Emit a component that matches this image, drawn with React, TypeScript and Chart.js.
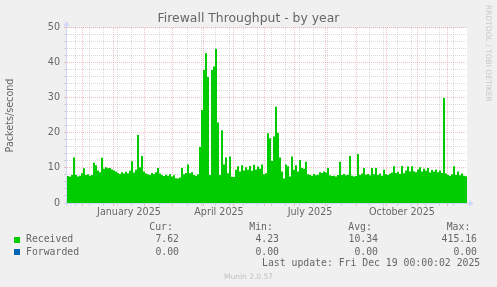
import React, { useEffect, useRef } from "react";
import { Chart, registerables } from "chart.js";

Chart.register(...registerables);

// ---------- data ----------
const TITLE = "Firewall Throughput - by year";
const Y_TITLE = "Packets/second";
const START_DATE = "2024-11-16"; // left edge of the plot
const SPAN_DAYS = 400;
const STEP_DAYS = 2; // one value per 2 days

const RECEIVED = [
  7.7, 7.5, 8.0, 13.0, 8.0, 7.6, 7.8, 8.5, 9.9, 8.0,
  8.2, 7.8, 8.0, 11.5, 10.8, 9.3, 8.8, 12.9, 9.8, 10.2,
  9.9, 10.0, 9.6, 9.3, 9.0, 8.6, 8.3, 8.8, 8.4, 8.9,
  8.5, 9.2, 11.9, 8.7, 9.5, 19.4, 10.2, 13.4, 9.0, 8.4,
  8.2, 8.0, 8.6, 8.3, 8.8, 10.0, 8.4, 8.0, 7.7, 8.1,
  7.8, 8.2, 7.6, 7.9, 7.1, 7.0, 7.3, 10.0, 8.2, 8.6,
  11.0, 8.5, 8.8, 8.0, 7.8, 8.2, 16.0, 26.6, 38.0, 42.8,
  36.0, 8.0, 38.0, 39.0, 44.0, 23.0, 8.0, 20.8, 11.0, 13.0,
  8.5, 13.3, 7.5, 7.4, 9.5, 10.5, 9.0, 10.8, 9.3, 10.2,
  9.5, 10.6, 9.2, 10.9, 9.6, 10.4, 9.8, 11.0, 8.2, 8.5,
  19.9, 18.5, 12.0, 19.0, 27.5, 20.0, 13.0, 9.0, 7.0, 11.0,
  10.5, 7.6, 13.3, 9.5, 10.8, 9.0, 12.3, 10.0, 9.8, 11.8,
  8.2, 8.0, 7.8, 8.3, 7.9, 8.1, 8.8, 8.6, 9.0, 8.7,
  10.0, 7.9, 7.7, 7.8, 7.6, 8.0, 11.8, 8.0, 8.3, 7.9,
  8.1, 13.4, 7.8, 7.6, 7.7, 14.0, 8.0, 8.4, 10.0, 8.1,
  8.3, 7.9, 10.0, 8.2, 10.0, 8.0, 8.4, 7.8, 9.5, 8.2,
  8.0, 8.4, 8.7, 10.5, 8.6, 8.9, 8.3, 10.6, 8.5, 9.3,
  10.4, 9.0, 10.5, 9.1, 8.8, 9.6, 10.2, 9.0, 9.8, 9.2,
  10.0, 8.7, 9.4, 9.0, 9.6, 8.8, 9.3, 8.6, 30.0, 8.4,
  8.0, 7.8, 8.2, 10.5, 8.0, 9.0, 7.9, 8.4, 7.8, 7.62,
];
const FORWARDED = [0, 0]; // flat at zero over the whole span

const SERIES_NAMES = ["Received", "Forwarded"];
const SERIES_COLORS = ["#00cc00", "#0066b3"];
const STAT_HEADERS = ["Cur:", "Min:", "Avg:", "Max:"];
const STATS_RECEIVED = ["7.62", "4.23", "10.34", "415.16"];
const STATS_FORWARDED = ["0.00", "0.00", "0.00", "0.00"];
const LAST_UPDATE = "Last update: Fri Dec 19 00:00:02 2025";
const FOOTER = "Munin 2.0.57";
const WATERMARK = "RRDTOOL / TOBI OETIKER";

const Y_MAX = 50;
const Y_LABEL_STEP = 10;
const Y_MINOR_STEP = 2;

const MONTH_STARTS = [
  "2024-12-01", "2025-01-01", "2025-02-01", "2025-03-01", "2025-04-01",
  "2025-05-01", "2025-06-01", "2025-07-01", "2025-08-01", "2025-09-01",
  "2025-10-01", "2025-11-01", "2025-12-01",
];
const MINOR_FIRST = "2024-11-24"; // every other Sunday
const MINOR_EVERY_DAYS = 14;
const X_LABELS = ["January 2025", "April 2025", "July 2025", "October 2025"];
const X_LABEL_DATES = ["2025-01-17", "2025-04-17", "2025-07-17", "2025-10-17"];

// ---------- helpers ----------
const DAY = 86400000;
const t0 = Date.parse(START_DATE + "T00:00:00Z");
const dayOf = (d: string) => (Date.parse(d + "T00:00:00Z") - t0) / DAY;

const MAJOR_X = MONTH_STARTS.map(dayOf);
const MINOR_X: number[] = [];
for (let d = dayOf(MINOR_FIRST); d < SPAN_DAYS; d += MINOR_EVERY_DAYS) MINOR_X.push(d);
const LABEL_X = X_LABEL_DATES.map(dayOf);

const X_TICKS = [
  ...MAJOR_X.map((v) => ({ value: v, kind: "major", label: "" })),
  ...MINOR_X.filter((v) => !MAJOR_X.some((m) => Math.abs(m - v) < 2)).map((v) => ({ value: v, kind: "minor", label: "" })),
  ...LABEL_X.map((v, i) => ({ value: v, kind: "label", label: X_LABELS[i] })),
].sort((a, b) => a.value - b.value);

const Y_TICKS: number[] = [];
for (let v = 0; v <= Y_MAX; v += Y_MINOR_STEP) Y_TICKS.push(v);

const MAJOR_COLOR = "rgba(222,79,79,0.36)";
const MINOR_COLOR = "rgba(140,140,140,0.32)";
const AXIS_COLOR = "#CFD6F8";
const TEXT_COLOR = "#666666";

const receivedPoints = RECEIVED.map((y, i) => ({ x: i * STEP_DAYS, y }));
receivedPoints.push({ x: SPAN_DAYS, y: RECEIVED[RECEIVED.length - 1] });
const forwardedPoints = FORWARDED.map((y, i) => ({ x: i * SPAN_DAYS, y }));

const muninPlugin = {
  id: "muninDecor",
  beforeDraw(chart: any) {
    const { ctx, chartArea: a } = chart;
    ctx.save();
    ctx.fillStyle = "#ffffff";
    ctx.fillRect(a.left, a.top, a.right - a.left, a.bottom - a.top);
    ctx.restore();
  },
  afterDatasetsDraw(chart: any) {
    const { ctx, chartArea: a } = chart;
    ctx.save();
    ctx.strokeStyle = AXIS_COLOR;
    ctx.fillStyle = AXIS_COLOR;
    ctx.lineWidth = 1;
    // y axis
    const ax = a.left - 0.5;
    ctx.beginPath();
    ctx.moveTo(ax, a.bottom + 3);
    ctx.lineTo(ax, a.top - 3);
    ctx.stroke();
    ctx.beginPath();
    ctx.moveTo(ax - 3, a.top - 2);
    ctx.lineTo(ax + 3, a.top - 2);
    ctx.lineTo(ax, a.top - 7);
    ctx.closePath();
    ctx.fill();
    // x axis
    const ay = a.bottom + 0.5;
    ctx.beginPath();
    ctx.moveTo(a.left - 3, ay);
    ctx.lineTo(a.right + 3, ay);
    ctx.stroke();
    ctx.beginPath();
    ctx.moveTo(a.right + 2, ay - 3);
    ctx.lineTo(a.right + 2, ay + 3);
    ctx.lineTo(a.right + 7, ay);
    ctx.closePath();
    ctx.fill();
    ctx.restore();
  },
};

const tickFont = { family: "DejaVu Sans", size: 9.6 };

function xGridColor(ctx: any) {
  const t = ctx.tick;
  if (!t) return "rgba(0,0,0,0)";
  const k = X_TICKS.find((x) => Math.abs(x.value - t.value) < 1e-6);
  if (!k || k.kind === "label") return "rgba(0,0,0,0)";
  return k.kind === "major" ? MAJOR_COLOR : MINOR_COLOR;
}
function yGridColor(ctx: any) {
  const t = ctx.tick;
  if (!t || t.value === 0) return "rgba(0,0,0,0)";
  return t.value % Y_LABEL_STEP === 0 ? MAJOR_COLOR : MINOR_COLOR;
}

export default function App() {
  const ref = useRef<HTMLCanvasElement>(null);

  useEffect(() => {
    if (!ref.current) return;
    const chart = new Chart(ref.current, {
      type: "line",
      data: {
        datasets: [
          {
            label: SERIES_NAMES[0],
            data: receivedPoints,
            stepped: true,
            fill: "origin",
            backgroundColor: SERIES_COLORS[0],
            borderColor: "rgba(0,0,0,0)",
            borderWidth: 0,
            pointRadius: 0,
          },
          {
            label: SERIES_NAMES[1],
            data: forwardedPoints,
            fill: false,
            borderColor: SERIES_COLORS[1],
            borderWidth: 0,
            pointRadius: 0,
          },
        ],
      },
      options: {
        animation: false,
        responsive: false,
        devicePixelRatio: 1,
        layout: { padding: { left: 0, right: 0, top: 0, bottom: 64 } },
        plugins: {
          legend: { display: false },
          tooltip: { enabled: false },
          title: {
            display: true,
            text: TITLE,
            color: TEXT_COLOR,
            font: { family: "DejaVu Sans", size: 12.4, weight: "normal" },
            padding: { top: 11, bottom: 2.1 },
          },
        },
        scales: {
          x: {
            type: "linear",
            min: 0,
            max: SPAN_DAYS,
            afterBuildTicks: (scale: any) => {
              scale.ticks = X_TICKS.map((t) => ({ value: t.value }));
            },
            afterFit: (scale: any) => {
              scale.height = 20;
            },
            ticks: {
              autoSkip: false,
              maxRotation: 0,
              color: TEXT_COLOR,
              font: tickFont,
              padding: 1,
              callback: (value: any) => {
                const k = X_TICKS.find((x) => Math.abs(x.value - value) < 1e-6);
                return k ? k.label : "";
              },
            },
            grid: {
              color: xGridColor,
              tickColor: xGridColor,
              tickLength: 3,
              lineWidth: 1,
            },
            border: { display: false, dash: [1, 1] },
          },
          y: {
            min: 0,
            max: Y_MAX,
            afterBuildTicks: (scale: any) => {
              scale.ticks = Y_TICKS.map((v) => ({ value: v }));
            },
            afterFit: (scale: any) => {
              scale.width = 67;
            },
            ticks: {
              autoSkip: false,
              color: TEXT_COLOR,
              font: tickFont,
              padding: 4,
              callback: (value: any) => (Number(value) % Y_LABEL_STEP === 0 ? String(value) : ""),
            },
            grid: {
              color: yGridColor,
              tickColor: yGridColor,
              tickLength: 3,
              lineWidth: 1,
            },
            border: { display: false, dash: [1, 1] },
            title: {
              display: true,
              text: Y_TITLE,
              color: TEXT_COLOR,
              font: { family: "DejaVu Sans", size: 9.6 },
              padding: { top: 4.5, bottom: 0 },
            },
          },
          yRight: {
            position: "right",
            min: 0,
            max: 1,
            ticks: { display: false },
            grid: { display: false },
            border: { display: false },
            afterFit: (scale: any) => {
              scale.width = 30;
            },
          },
        },
      },
      plugins: [muninPlugin],
    } as any);
    return () => chart.destroy();
  }, []);

  const mono: React.CSSProperties = {
    position: "absolute",
    fontFamily: "'DejaVu Sans Mono', monospace",
    fontSize: 9.8,
    lineHeight: "12px",
    color: TEXT_COLOR,
    whiteSpace: "pre",
  };
  const headerLeft = [149.3, 249.3, 348.3, 446.7];
  const valueRight = [179, 279, 378, 477];
  const rowTops = [233.3, 245.6];
  const rows = [STATS_RECEIVED, STATS_FORWARDED];

  return (
    <div
      style={{
        position: "fixed",
        left: 0,
        top: 0,
        width: 497,
        height: 287,
        background: "#f0f0f0",
        overflow: "hidden",
      }}
    >
      <canvas
        ref={ref}
        width={497}
        height={287}
        style={{ position: "absolute", left: 0, top: 0, width: 497, height: 287 }}
      />
      <div
        style={{
          position: "absolute",
          left: 484,
          top: 5,
          writingMode: "vertical-rl",
          fontFamily: "'DejaVu Sans', sans-serif",
          fontSize: 7.5,
          lineHeight: "9px",
          color: "#c8c8c8",
          whiteSpace: "nowrap",
        }}
      >
        {WATERMARK}
      </div>
      {STAT_HEADERS.map((h, i) => (
        <div key={h} style={{ ...mono, left: headerLeft[i], top: 221.3 }}>
          {h}
        </div>
      ))}
      {rows.map((row, r) => (
        <React.Fragment key={SERIES_NAMES[r]}>
          <div
            style={{
              position: "absolute",
              left: 14,
              top: rowTops[r] + 3.4,
              width: 6,
              height: 6,
              background: SERIES_COLORS[r],
            }}
          />
          <div style={{ ...mono, left: 26, top: rowTops[r] }}>{SERIES_NAMES[r]}</div>
          {row.map((v, i) => (
            <div key={i} style={{ ...mono, right: 497 - valueRight[i], top: rowTops[r] }}>
              {v}
            </div>
          ))}
        </React.Fragment>
      ))}
      <div style={{ ...mono, left: 262, top: 257.3 }}>{LAST_UPDATE}</div>
      <div
        style={{
          position: "absolute",
          left: 0,
          width: 497,
          top: 272,
          textAlign: "center",
          fontFamily: "'DejaVu Sans', sans-serif",
          fontSize: 7.5,
          lineHeight: "9px",
          color: "#c0c0c0",
          whiteSpace: "nowrap",
        }}
      >
        {FOOTER}
      </div>
    </div>
  );
}
